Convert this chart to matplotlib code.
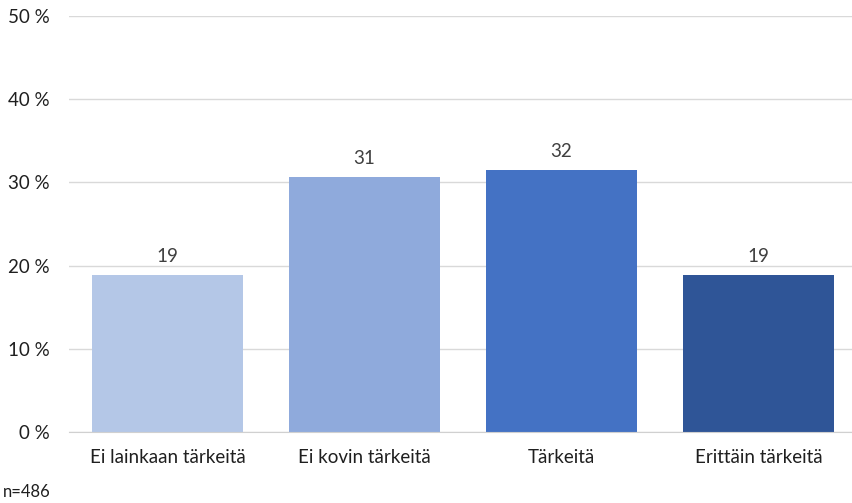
import matplotlib
matplotlib.use("Agg")
import matplotlib.pyplot as plt

categories = ["Ei lainkaan tärkeitä", "Ei kovin tärkeitä", "Tärkeitä", "Erittäin tärkeitä"]
values = [18.9, 30.7, 31.5, 18.9]
labels = ["19", "31", "32", "19"]
colors = ["#B4C7E7", "#8FAADC", "#4472C4", "#2F5597"]
yticks = [0, 10, 20, 30, 40, 50]
ytick_labels = ["0 %", "10 %", "20 %", "30 %", "40 %", "50 %"]
note = "n=486"

plt.rcParams['font.family'] = ['Lato', 'DejaVu Sans']

W, H = 852, 503
fig = plt.figure(figsize=(W / 100, H / 100), dpi=100)
left = 69 / W
bottom = (H - 432) / H
ax = fig.add_axes([left, bottom, 1 - left, 416 / H])

x = list(range(len(categories)))
ax.bar(x, values, width=0.77, color=colors, zorder=3)
for xi, v, lab in zip(x, values, labels):
    ax.annotate(lab, (xi, v), xytext=(0, 7), textcoords="offset points",
                ha="center", va="bottom", fontsize=13.5, color="#404040")

ax.set_ylim(0, 50)
ax.set_xlim(-0.5, 3.5 - 5 / 197)
ax.set_yticks(yticks)
ax.set_yticklabels(ytick_labels, fontsize=13.5, color="#1f1f1f")
ax.set_xticks(x)
ax.set_xticklabels(categories, fontsize=13.5, color="#1f1f1f")
ax.yaxis.grid(True, color="#D9D9D9", linewidth=1, zorder=0)
ax.tick_params(axis="both", length=0)
ax.tick_params(axis="y", pad=14)
ax.tick_params(axis="x", pad=12)
for s in ["top", "right", "left"]:
    ax.spines[s].set_visible(False)
ax.spines["bottom"].set_color("#D0D0D0")
ax.spines["bottom"].set_zorder(4)

fig.text(3 / W, 1 - 492 / H, note, fontsize=12, color="#1f1f1f", va="center", ha="left")

fig.savefig("out.png", dpi=100, facecolor="white")
